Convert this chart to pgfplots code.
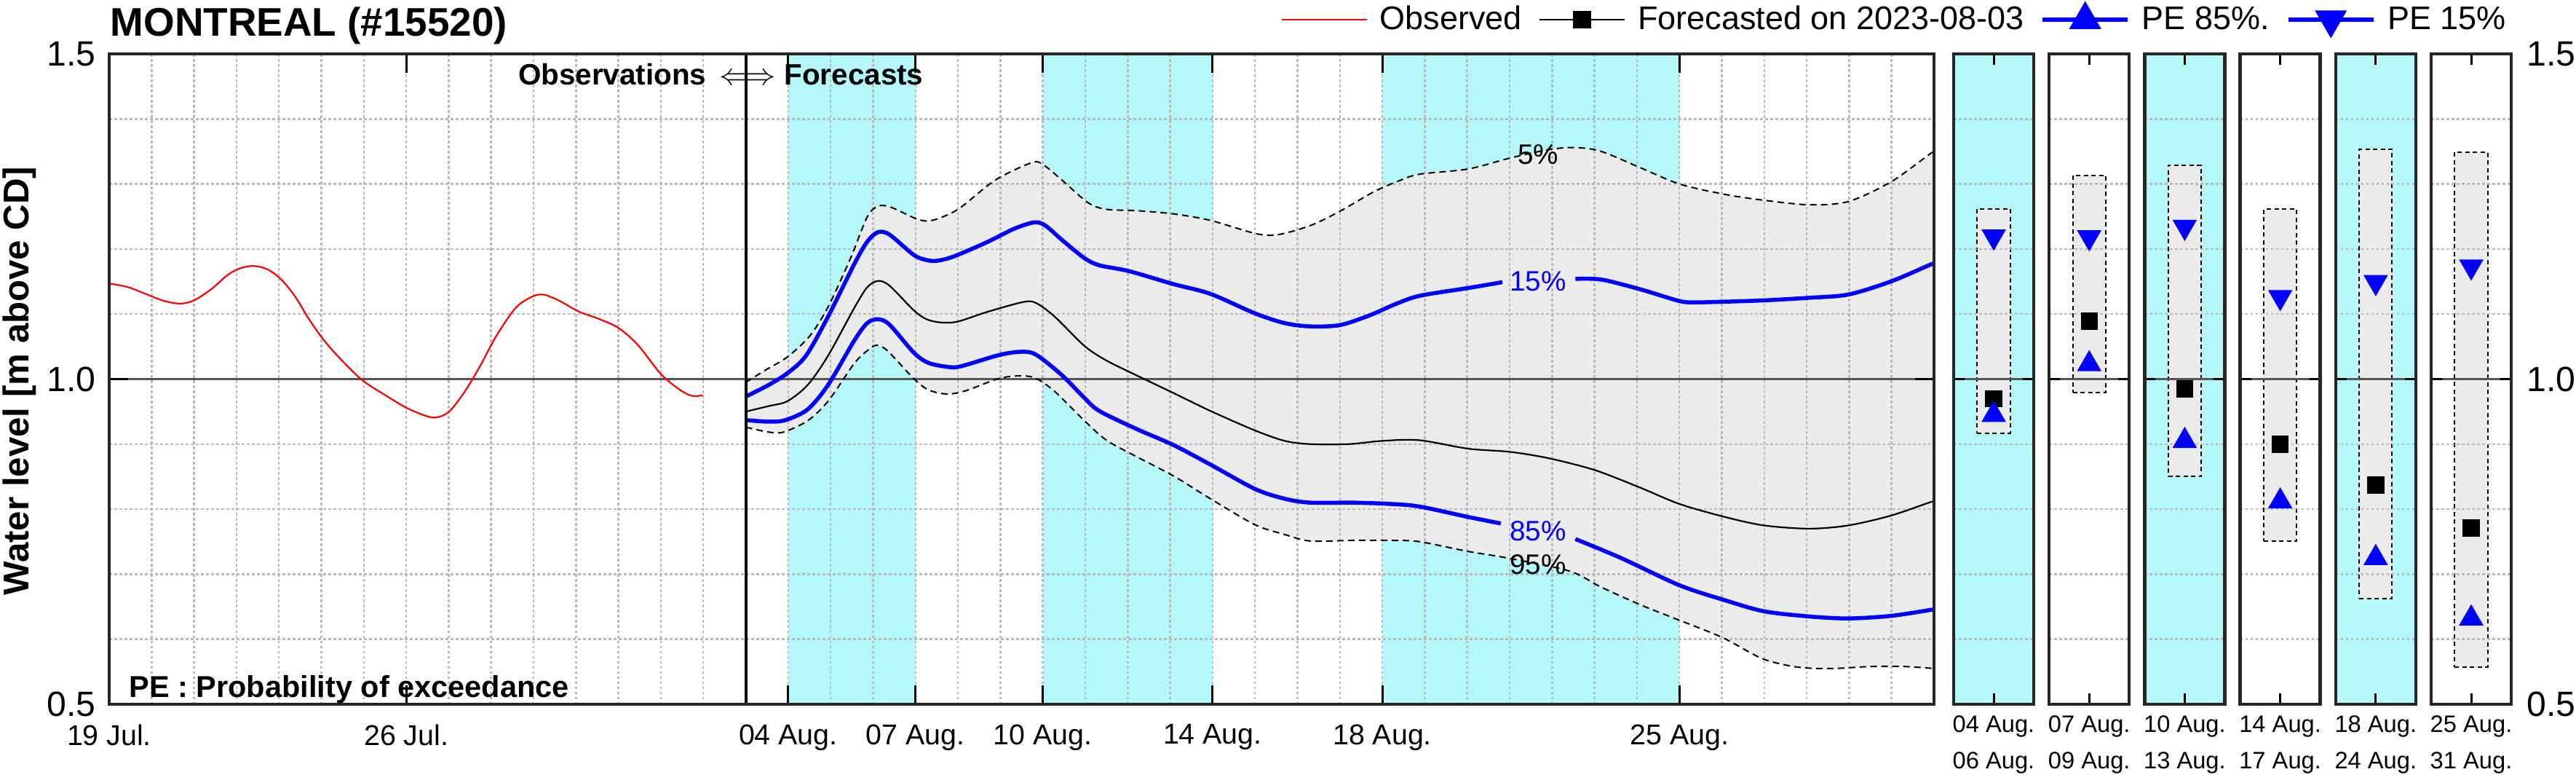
\documentclass[border=0pt]{standalone}
\usepackage{fontspec}
\setmainfont{Liberation Sans}
\usepackage{pgfplots}
\pgfplotsset{compat=1.18}
\usepgfplotslibrary{fillbetween}

\definecolor{cyanbg}{RGB}{180,248,250}
\definecolor{bandgray}{RGB}{235,235,235}
\definecolor{gridgray}{RGB}{185,185,185}
\definecolor{framegray}{RGB}{38,38,38}
\definecolor{zerogray}{RGB}{85,85,85}

\pgfplotsset{
  layers/mylayers/.define layer set={
    axis background,pre main,axis grid,main,axis ticks,axis lines,axis tick labels,axis descriptions,axis foreground
  }{
    grid style={/pgfplots/on layer=axis grid},
    tick style={/pgfplots/on layer=axis ticks},
    axis line style={/pgfplots/on layer=axis lines},
    label style={/pgfplots/on layer=axis descriptions},
    legend style={/pgfplots/on layer=axis descriptions},
    title style={/pgfplots/on layer=axis descriptions},
    colorbar style={/pgfplots/on layer=axis descriptions},
    ticklabel style={/pgfplots/on layer=axis tick labels},
    axis background@ style={/pgfplots/on layer=axis background},
    3d box foreground style={/pgfplots/on layer=axis foreground},
  },
  common/.style={
    scale only axis, anchor=south west, height=8.93cm,
    ymin=0.5, ymax=1.5,
    set layers=mylayers,
    axis line style={framegray, line width=0.045cm},
    tick align=inside, xtick pos=both, ytick pos=both,
    tick style={black, line width=0.03cm},
    minor tick length=0pt,
    minor ytick={0.6,0.7,0.8,0.9,1.1,1.2,1.3,1.4},
    yminorgrids,
    minor grid style={gridgray, line width=0.025cm, dash pattern=on 0.035cm off 0.035cm},
  },
  panel/.style={
    common, width=1.10cm,
    xmin=0, xmax=1,
    xtick={0.5}, ytick={1}, yticklabels={},
    major tick length=0.15cm,
    ymajorgrids,
    major grid style={zerogray, line width=0.022cm, solid},
    xticklabel style={align=center, inner sep=0pt, anchor=north, yshift=-0.15cm,
      font=\fontsize{9.3}{14.2}\selectfont},
  },
  boxst/.style={draw=black, line width=0.02cm, dash pattern=on 0.06cm off 0.045cm, fill=bandgray, on layer=pre main},
  sq/.style={only marks, mark=square*, mark size=0.11cm, black},
  up/.style={only marks, mark=triangle*, mark size=0.18cm, blue},
  dn/.style={only marks, mark=triangle*, mark size=0.18cm, blue, mark options={rotate=180}},
}

\begin{document}
\begin{tikzpicture}

\begin{axis}[common,
  at={(1.50cm,1.03cm)}, width=25.07cm,
  xmin=0, xmax=43,
  xtick={0,7,16,19,22,26,30,37},
  xticklabels={19 Jul.,26 Jul.,04 Aug.,07 Aug.,10 Aug.,14 Aug.,18 Aug.,25 Aug.},
  minor xtick={1,2,3,4,5,6,7,8,9,10,11,12,13,14,15,16,17,18,19,20,21,22,23,24,25,26,27,28,29,30,31,32,33,34,35,36,37,38,39,40,41,42},
  xmajorgrids, xminorgrids,
  major grid style={gridgray, line width=0.025cm, dash pattern=on 0.035cm off 0.035cm},
  major tick length=0.26cm,
  ytick={0.5,1.5}, yticklabels={0.5,1.5},
  extra y ticks={1}, extra y tick labels={1.0},
  extra y tick style={ymajorgrids=true, xmajorgrids=false, major grid style={zerogray, line width=0.022cm, solid}},
  xticklabel style={inner sep=0pt, anchor=north, yshift=-0.27cm, font=\fontsize{11.2}{13}\selectfont},
  yticklabel style={inner sep=0pt, anchor=east, xshift=-0.18cm, font=\fontsize{13.7}{15}\selectfont},
  legend columns=4,
  legend cell align=left,
  legend image code/.code={\draw[mark repeat=2,mark phase=2,#1] plot coordinates {(0cm,0cm) (0.585cm,0cm) (1.17cm,0cm)};},
  legend style={at={(0.6418,1.0526)}, anchor=west, draw=none, fill=none, inner sep=0pt,
    font=\fontsize{12.8}{14}\selectfont,
    nodes={inner sep=0pt},
    /tikz/every odd column/.append style={column sep=0.17cm},
    /tikz/every even column/.append style={column sep=0.23cm}},
]
\addlegendimage{red, line width=0.02cm}
\addlegendentry{Observed}
\addlegendimage{black, line width=0.025cm, mark=square*, mark size=0.11cm}
\addlegendentry{Forecasted on 2023-08-03}
\addlegendimage{blue, line width=0.055cm, mark=triangle*, mark size=0.2cm}
\addlegendentry{PE 85\%.}
\addlegendimage{blue, line width=0.055cm, mark=triangle*, mark size=0.2cm, mark options={rotate=180}}
\addlegendentry{PE 15\%}

% shaded periods
\addplot[draw=none, fill=cyanbg, on layer=axis background, forget plot] coordinates {(16,0.5) (19,0.5) (19,1.5) (16,1.5)} -- cycle;
\addplot[draw=none, fill=cyanbg, on layer=axis background, forget plot] coordinates {(22,0.5) (26,0.5) (26,1.5) (22,1.5)} -- cycle;
\addplot[draw=none, fill=cyanbg, on layer=axis background, forget plot] coordinates {(30,0.5) (37,0.5) (37,1.5) (30,1.5)} -- cycle;

% 5% envelope
\addplot[name path=pup, black, line width=0.02cm, dash pattern=on 0.09cm off 0.06cm, smooth, forget plot] coordinates {
(15,0.995) (15.455,1.0135) (15.98,1.034) (16.505,1.066) (16.94,1.111) (17.47,1.186) (17.86,1.249) (18.12,1.266) (18.43,1.264) (19.04,1.246) (19.39,1.244) (20.0,1.261) (20.88,1.306) (21.75,1.333) (22.02,1.329) (22.45,1.306) (23.07,1.271) (23.5,1.261) (24.2,1.259) (25.08,1.254) (25.95,1.244) (27.0,1.224) (27.53,1.222) (28.3,1.236) (29.0,1.258) (29.8,1.288) (30.4,1.305) (30.875,1.315) (32.02,1.323) (33.02,1.340) (33.94,1.353) (34.55,1.356) (35.16,1.350) (36.08,1.325) (37.0,1.300) (38.07,1.284) (38.99,1.275) (40.06,1.268) (40.98,1.273) (41.98,1.303) (42.88,1.345) (43,1.350)};
% 95% envelope
\addplot[name path=plo, black, line width=0.02cm, dash pattern=on 0.09cm off 0.06cm, smooth, forget plot] coordinates {
(15,0.926) (15.54,0.9185) (15.89,0.9185) (16.46,0.936) (16.94,0.966) (17.55,1.0235) (17.86,1.0435) (18.08,1.052) (18.34,1.0435) (18.955,1.001) (19.30,0.9835) (19.74,0.977) (20.18,0.982) (20.97,1.001) (21.49,1.005) (21.84,1.001) (22.28,0.981) (22.98,0.936) (23.5,0.906) (24.2,0.881) (25.08,0.851) (25.95,0.816) (27.0,0.776) (27.70,0.761) (28.3,0.751) (29.3,0.752) (30.2,0.752) (30.875,0.750) (32.02,0.735) (32.94,0.725) (34.4,0.705) (35.16,0.680) (36.08,0.653) (36.85,0.633) (38.0,0.603) (38.96,0.570) (39.8,0.557) (40.6,0.555) (41.5,0.558) (42.3,0.558) (43,0.555)};
\addplot[bandgray, forget plot] fill between[of=pup and plo];

% median
\addplot[black, line width=0.022cm, smooth, forget plot] coordinates {
(15,0.950) (15.54,0.9585) (15.98,0.966) (16.46,0.991) (16.94,1.036) (17.55,1.1085) (17.86,1.141) (18.12,1.151) (18.39,1.1435) (18.955,1.106) (19.26,1.092) (19.61,1.087) (20.0,1.0885) (20.70,1.1035) (21.54,1.1185) (21.84,1.117) (22.28,1.096) (22.98,1.051) (23.5,1.0285) (24.2,1.006) (25.08,0.9785) (25.95,0.951) (27.0,0.921) (27.70,0.905) (28.3,0.900) (29.2,0.900) (30.0,0.905) (30.875,0.906) (32.02,0.893) (33.02,0.888) (33.94,0.878) (35.01,0.860) (36.08,0.833) (37.0,0.808) (38.07,0.788) (38.99,0.775) (40.06,0.770) (40.98,0.775) (41.98,0.790) (42.88,0.810) (43,0.812)};

% PE 15%
\addplot[blue, line width=0.055cm, smooth, forget plot] coordinates {
(15,0.973) (15.54,0.991) (15.98,1.009) (16.42,1.036) (16.94,1.096) (17.55,1.176) (17.86,1.211) (18.12,1.226) (18.39,1.222) (18.955,1.191) (19.26,1.183) (19.52,1.182) (19.92,1.189) (20.70,1.211) (21.32,1.231) (21.80,1.241) (22.06,1.236) (22.45,1.214) (22.98,1.186) (23.33,1.175) (24.03,1.166) (25.08,1.146) (25.95,1.131) (27.0,1.101) (27.70,1.086) (28.3,1.081) (29.0,1.083) (29.7,1.098) (30.3,1.115) (30.875,1.128) (32.02,1.140) (32.83,1.149)};
\addplot[blue, line width=0.055cm, smooth, forget plot] coordinates {
(34.55,1.154) (35.16,1.153) (36.08,1.138) (37.0,1.120) (37.38,1.118) (38.07,1.119) (38.99,1.121) (40.06,1.125) (40.98,1.130) (41.98,1.150) (42.88,1.175) (43,1.178)};

% PE 85%
\addplot[blue, line width=0.055cm, smooth, forget plot] coordinates {
(15,0.937) (15.54,0.9345) (15.94,0.937) (16.46,0.9535) (16.94,0.991) (17.55,1.0585) (17.86,1.086) (18.12,1.092) (18.39,1.0835) (18.955,1.041) (19.30,1.025) (19.79,1.0185) (20.09,1.02) (20.97,1.037) (21.49,1.042) (21.84,1.0375) (22.45,1.006) (22.98,0.971) (23.33,0.951) (24.2,0.9235) (25.08,0.8985) (25.95,0.8685) (27.0,0.831) (27.70,0.816) (28.3,0.810) (29.3,0.810) (30.2,0.808) (30.875,0.804) (32.02,0.788) (32.79,0.778)};
\addplot[blue, line width=0.055cm, smooth, forget plot] coordinates {
(34.55,0.754) (35.62,0.725) (37.0,0.683) (38.07,0.660) (38.99,0.643) (40.06,0.635) (40.98,0.632) (42.0,0.636) (43,0.646)};

% observed
\addplot[red, line width=0.022cm, smooth, forget plot] coordinates {
(0.0,1.147) (0.46,1.141) (0.93,1.129) (1.30,1.120) (1.67,1.116) (2.0,1.121) (2.42,1.139) (2.79,1.160) (3.07,1.170) (3.39,1.174) (3.72,1.169) (4.04,1.154) (4.37,1.128) (4.69,1.094) (5.02,1.063) (5.39,1.035) (5.95,0.999) (6.51,0.975) (7.06,0.954) (7.62,0.941) (7.99,0.949) (8.36,0.979) (8.74,1.020) (9.11,1.065) (9.57,1.109) (9.94,1.126) (10.22,1.130) (10.59,1.121) (11.06,1.104) (11.52,1.093) (11.99,1.079) (12.45,1.053) (13.01,1.007) (13.48,0.982) (13.75,0.974) (13.99,0.975)};

% divider
\addplot[black, line width=0.04cm, forget plot] coordinates {(15,0.5) (15,1.5)};

\node[anchor=base, inner sep=0pt, font=\fontsize{11.5}{14}\selectfont] (arr) at (axis cs:15.05,1.452) {$\Longleftrightarrow$};
\node[anchor=base east, inner sep=0pt, font=\bfseries\fontsize{11.5}{14}\selectfont] at ([xshift=-0.17cm]arr.base west) {Observations};
\node[anchor=base west, inner sep=0pt, font=\bfseries\fontsize{11.5}{14}\selectfont] at ([xshift=0.10cm]arr.base east) {Forecasts};

\node[inner sep=0pt, font=\fontsize{11}{13}\selectfont, text=black] at (axis cs:33.67,1.345) {5\%};
\node[inner sep=0pt, font=\fontsize{11}{13}\selectfont, text=blue] at (axis cs:33.67,1.150) {15\%};
\node[inner sep=0pt, font=\fontsize{11}{13}\selectfont, text=blue] at (axis cs:33.67,0.766) {85\%};
\node[inner sep=0pt, font=\fontsize{11}{13}\selectfont, text=black] at (axis cs:33.67,0.715) {95\%};
\end{axis}

% ---- period panels ----
\begin{axis}[panel, at={(26.84cm,1.03cm)}, axis background/.style={fill=cyanbg}, xticklabels={{04 Aug.\\06 Aug.}}]
\addplot[boxst] coordinates {(0.295,0.917) (0.705,0.917) (0.705,1.262) (0.295,1.262)} -- cycle;
\addplot[sq] coordinates {(0.5,0.970)};
\addplot[up] coordinates {(0.5,0.945)};
\addplot[dn] coordinates {(0.5,1.219)};
\end{axis}
\begin{axis}[panel, at={(28.152cm,1.03cm)}, xticklabels={{07 Aug.\\09 Aug.}}]
\addplot[boxst] coordinates {(0.295,0.979) (0.705,0.979) (0.705,1.313) (0.295,1.313)} -- cycle;
\addplot[sq] coordinates {(0.5,1.089)};
\addplot[up] coordinates {(0.5,1.023)};
\addplot[dn] coordinates {(0.5,1.218)};
\end{axis}
\begin{axis}[panel, at={(29.464cm,1.03cm)}, axis background/.style={fill=cyanbg}, xticklabels={{10 Aug.\\13 Aug.}}]
\addplot[boxst] coordinates {(0.295,0.850) (0.705,0.850) (0.705,1.329) (0.295,1.329)} -- cycle;
\addplot[sq] coordinates {(0.5,0.985)};
\addplot[up] coordinates {(0.5,0.905)};
\addplot[dn] coordinates {(0.5,1.234)};
\end{axis}
\begin{axis}[panel, at={(30.776cm,1.03cm)}, xticklabels={{14 Aug.\\17 Aug.}}]
\addplot[boxst] coordinates {(0.295,0.751) (0.705,0.751) (0.705,1.261) (0.295,1.261)} -- cycle;
\addplot[sq] coordinates {(0.5,0.900)};
\addplot[up] coordinates {(0.5,0.812)};
\addplot[dn] coordinates {(0.5,1.126)};
\end{axis}
\begin{axis}[panel, at={(32.088cm,1.03cm)}, axis background/.style={fill=cyanbg}, xticklabels={{18 Aug.\\24 Aug.}}]
\addplot[boxst] coordinates {(0.295,0.662) (0.705,0.662) (0.705,1.353) (0.295,1.353)} -- cycle;
\addplot[sq] coordinates {(0.5,0.837)};
\addplot[up] coordinates {(0.5,0.725)};
\addplot[dn] coordinates {(0.5,1.149)};
\end{axis}
\begin{axis}[panel, at={(33.40cm,1.03cm)}, xticklabels={{25 Aug.\\31 Aug.}},
  ytick={0.5,1,1.5}, yticklabels={0.5,1.0,1.5}, yticklabel pos=right,
  yticklabel style={inner sep=0pt, anchor=west, xshift=0.21cm, font=\fontsize{13.7}{15}\selectfont}]
\addplot[boxst] coordinates {(0.295,0.557) (0.705,0.557) (0.705,1.349) (0.295,1.349)} -- cycle;
\addplot[sq] coordinates {(0.5,0.771)};
\addplot[up] coordinates {(0.5,0.632)};
\addplot[dn] coordinates {(0.5,1.173)};
\end{axis}

% ---- titles and labels ----
\node[anchor=base west, inner sep=0pt, font=\bfseries\fontsize{15.6}{18}\selectfont] at (1.51,10.20) {MONTREAL (\#15520)};
\node[rotate=90, inner sep=0pt, font=\bfseries\fontsize{14}{16}\selectfont] at (0.27,5.47) {Water level [m above CD]};
\node[anchor=base west, inner sep=0pt, font=\bfseries\fontsize{11.8}{14}\selectfont] at (1.77,1.13) {PE : Probability of exceedance};

\pgfresetboundingbox
\useasboundingbox (0,0) rectangle (35.39,10.70);
\end{tikzpicture}
\end{document}
